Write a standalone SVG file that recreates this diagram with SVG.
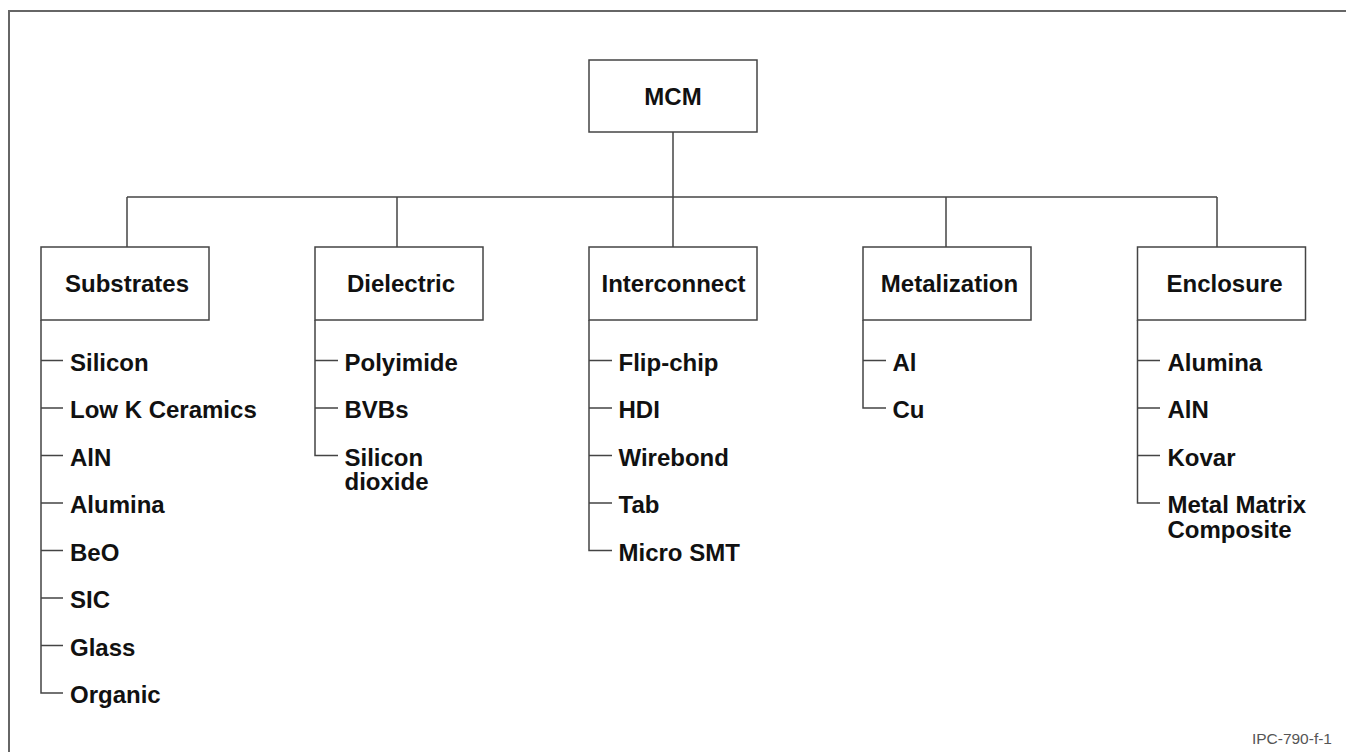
<svg xmlns="http://www.w3.org/2000/svg" width="1346" height="752" viewBox="0 0 1346 752">
<style>
.frame{fill:none;stroke:#666;stroke-width:2}
.box{fill:#fff;stroke:#444;stroke-width:1.5}
.ln{fill:none;stroke:#444;stroke-width:1.5}
.ttl{font-family:"Liberation Sans",Arial,sans-serif;font-weight:bold;font-size:24px;fill:#111;text-anchor:middle}
.item{font-family:"Liberation Sans",Arial,sans-serif;font-weight:bold;font-size:24px;fill:#111}
.foot{font-family:"Liberation Sans",Arial,sans-serif;font-size:15.5px;fill:#555;text-anchor:end}
</style>
<rect x="0" y="0" width="1346" height="752" fill="#fff"/>
<path class="frame" d="M9,752 V11 H1346"/>
<g id="connectors">
<path class="ln" d="M673,132 V247"/>
<path class="ln" d="M127,197 H1217"/>
<path class="ln" d="M127,197 V247"/>
<path class="ln" d="M397,197 V247"/>
<path class="ln" d="M946,197 V247"/>
<path class="ln" d="M1217,197 V247"/>
<path class="ln" d="M41,320 V693 H63 M41,360.5 H63 M41,408 H63 M41,455.5 H63 M41,503 H63 M41,550.5 H63 M41,598 H63 M41,645.5 H63"/>
<path class="ln" d="M315,320 V455.5 H338 M315,360.5 H338 M315,408 H338"/>
<path class="ln" d="M589,320 V550.5 H612 M589,360.5 H612 M589,408 H612 M589,455.5 H612 M589,503 H612"/>
<path class="ln" d="M863,320 V408 H886 M863,360.5 H886"/>
<path class="ln" d="M1137.5,320 V503 H1160 M1137.5,360.5 H1160 M1137.5,408 H1160 M1137.5,455.5 H1160"/>
</g>
<g id="mcm"><rect class="box" x="589" y="60" width="168" height="72"/><text class="ttl" x="673" y="105">MCM</text></g>
<g id="substrates"><rect class="box" x="41" y="247" width="168" height="73"/><text class="ttl" x="127" y="292">Substrates</text></g>
<g id="dielectric"><rect class="box" x="315" y="247" width="168" height="73"/><text class="ttl" x="401" y="292">Dielectric</text></g>
<g id="interconnect"><rect class="box" x="589" y="247" width="168" height="73"/><text class="ttl" x="673.5" y="292">Interconnect</text></g>
<g id="metalization"><rect class="box" x="863" y="247" width="168" height="73"/><text class="ttl" x="949.5" y="292">Metalization</text></g>
<g id="enclosure"><rect class="box" x="1137.5" y="247" width="168" height="73"/><text class="ttl" x="1224.5" y="292">Enclosure</text></g>
<g id="substrates-items">
<text class="item" x="70" y="370.5">Silicon</text>
<text class="item" x="70" y="418">Low K Ceramics</text>
<text class="item" x="70" y="465.5">AlN</text>
<text class="item" x="70" y="513">Alumina</text>
<text class="item" x="70" y="560.5">BeO</text>
<text class="item" x="70" y="608">SIC</text>
<text class="item" x="70" y="655.5">Glass</text>
<text class="item" x="70" y="703">Organic</text>
</g>
<g id="dielectric-items">
<text class="item" x="344.5" y="370.5">Polyimide</text>
<text class="item" x="344.5" y="418">BVBs</text>
<text class="item" x="344.5" y="465.5">Silicon</text>
<text class="item" x="344.5" y="490">dioxide</text>
</g>
<g id="interconnect-items">
<text class="item" x="618.5" y="370.5">Flip-chip</text>
<text class="item" x="618.5" y="418">HDI</text>
<text class="item" x="618.5" y="465.5">Wirebond</text>
<text class="item" x="618.5" y="513">Tab</text>
<text class="item" x="618.5" y="560.5">Micro SMT</text>
</g>
<g id="metalization-items">
<text class="item" x="892.5" y="370.5">Al</text>
<text class="item" x="892.5" y="418">Cu</text>
</g>
<g id="enclosure-items">
<text class="item" x="1167.5" y="370.5">Alumina</text>
<text class="item" x="1167.5" y="418">AlN</text>
<text class="item" x="1167.5" y="465.5">Kovar</text>
<text class="item" x="1167.5" y="513">Metal Matrix</text>
<text class="item" x="1167.5" y="537.5">Composite</text>
</g>
<text class="foot" x="1332" y="743.5">IPC-790-f-1</text>
</svg>
